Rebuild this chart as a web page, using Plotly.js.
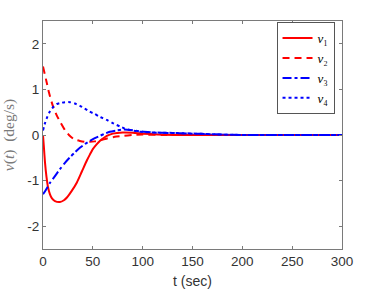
<!DOCTYPE html>
<html>
<head>
<meta charset="utf-8">
<script src="https://cdn.plot.ly/plotly-3.0.1.min.js"></script>
<style>html,body{margin:0;padding:0;background:#fff;}#chart{width:371px;height:289px;}</style>
</head>
<body>
<div id="chart"></div>
<script>
// Series
const t1 = [0, 1, 2, 3.5, 5, 7, 9, 12, 17, 21, 24, 29, 34, 39, 44, 47, 50, 54, 57, 60, 64, 70, 80, 90, 100, 115, 130, 160, 200, 250, 300];
const v1 = [0, -0.3, -0.6, -0.92, -1.14, -1.3, -1.39, -1.45, -1.47, -1.43, -1.37, -1.22, -1.04, -0.80, -0.56, -0.43, -0.31, -0.2, -0.13, -0.08, -0.02, 0.03, 0.055, 0.05, 0.03, 0.01, 0.0, 0.0, 0.0, 0.0, 0.0];

const t2 = [0, 3, 6, 10, 14, 18, 22, 26, 31, 37, 42, 47, 52, 57, 65, 72, 80, 90, 100, 120, 150, 200, 250, 300];
const v2 = [1.5, 1.22, 0.93, 0.63, 0.42, 0.26, 0.11, 0.0, -0.09, -0.13, -0.15, -0.15, -0.14, -0.12, -0.07, -0.04, -0.02, 0.0, 0.01, 0.0, 0.0, 0.0, 0.0, 0.0];

const t3 = [0, 3, 7, 12, 17, 22, 27, 32, 37, 42, 47, 52, 57, 62, 67, 74, 81, 88, 97, 105, 114, 125, 137, 150, 165, 180, 200, 250, 300];
const v3 = [-1.3, -1.2, -1.05, -0.9, -0.75, -0.61, -0.49, -0.38, -0.28, -0.2, -0.13, -0.07, -0.02, 0.03, 0.07, 0.1, 0.12, 0.11, 0.08, 0.065, 0.05, 0.045, 0.04, 0.03, 0.02, 0.01, 0.0, 0.0, 0.0];

const t4 = [0, 2, 4, 7, 11, 14, 17, 22, 27, 32, 37, 42, 47, 52, 56, 60, 64, 70, 77, 82, 87, 94, 101, 110, 120, 140, 160, 180, 200, 250, 300];
const v4 = [0.1, 0.26, 0.38, 0.52, 0.63, 0.68, 0.70, 0.72, 0.72, 0.69, 0.64, 0.58, 0.51, 0.46, 0.41, 0.37, 0.33, 0.26, 0.19, 0.14, 0.11, 0.08, 0.065, 0.055, 0.05, 0.04, 0.025, 0.01, 0.0, 0.0, 0.0];

const seriesNames = ['<i>v</i>₁', '<i>v</i>₂', '<i>v</i>₃', '<i>v</i>₄'];
const xTicks = [0, 50, 100, 150, 200, 250, 300];
const yTicks = [-2, -1, 0, 1, 2];
const yTickText = ['-2', '-1', '0', '1', '2'];

const mk = (x, y, name, color, dash) => ({
  x: x, y: y, name: name, type: 'scatter', mode: 'lines',
  line: {color: color, width: 2, dash: dash, shape: 'spline', smoothing: 0.6}
});

const data = [
  mk(t1, v1, seriesNames[0], '#ff0000', 'solid'),
  mk(t2, v2, seriesNames[1], '#ff0000', '7px,5px'),
  mk(t3, v3, seriesNames[2], '#0000ff', 'dashdot'),
  mk(t4, v4, seriesNames[3], '#0000ff', 'dot')
];

const axisCommon = {
  showgrid: false, zeroline: false, showline: true, linecolor: '#7a7a7a', linewidth: 1,
  mirror: 'allticks', ticks: 'inside', ticklen: 3, tickcolor: '#7a7a7a',
  tickfont: {family: 'Liberation Sans, Arial, sans-serif', size: 13.5, color: '#333333'}
};

const layout = {
  width: 371, height: 289,
  margin: {l: 43, r: 29, t: 21, b: 40},
  paper_bgcolor: '#ffffff', plot_bgcolor: '#ffffff',
  showlegend: true,
  legend: {
    x: 0.975, y: 0.995, xanchor: 'right', yanchor: 'top',
    bordercolor: '#555', borderwidth: 1, bgcolor: '#ffffff',
    font: {family: 'Liberation Serif, DejaVu Serif, serif', size: 13, color: '#000'},
    itemwidth: 30, tracegroupgap: 0
  },
  xaxis: Object.assign({}, axisCommon, {
    range: [0, 300], tickvals: xTicks, ticktext: xTicks.map(String),
    title: {text: 't (sec)', font: {family: 'Liberation Sans, Arial, sans-serif', size: 14, color: '#333333'}}
  }),
  yaxis: Object.assign({}, axisCommon, {
    range: [-2.5, 2.5], tickvals: yTicks, ticktext: yTickText,
    title: {text: '<i>v</i>(<i>t</i>)  (deg/s)', font: {family: 'Liberation Serif, DejaVu Serif, serif', size: 15.5, color: '#7a7a7a'}}
  })
};

Plotly.newPlot('chart', data, layout, {staticPlot: true, displayModeBar: false});
</script>
</body>
</html>
